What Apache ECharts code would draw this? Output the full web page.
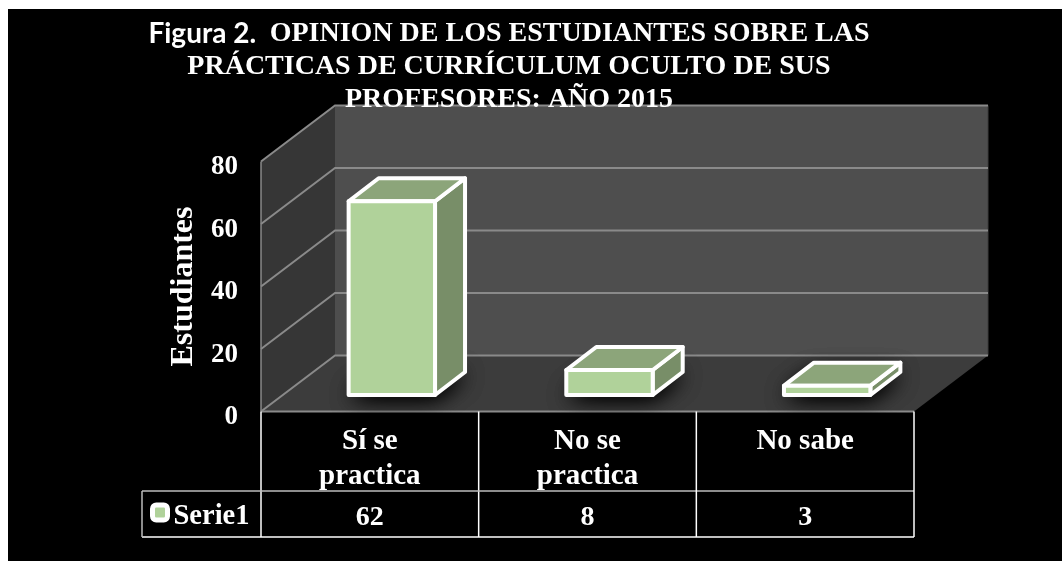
<!DOCTYPE html>
<html>
<head>
<meta charset="utf-8">
<title>Figura 2</title>
<script src="https://cdn.jsdelivr.net/npm/echarts@6/dist/echarts.min.js"></script>
<style>
html, body { margin: 0; padding: 0; background: #fff; }
#chart { width: 1062px; height: 561px; }
</style>
</head>
<body>
<div id="chart"></div>
<script>
// datos
const categories = ['Sí se\npractica', 'No se\npractica', 'No sabe'];
const values = [62, 8, 3];
const yTicks = [0, 20, 40, 60, 80];
const seriesName = 'Serie1';

const SERIF = '"Liberation Serif", serif';
// profundidad de la caja 3D
const DEPTH_X = 74, DEPTH_Y = 56;
const BAR_OFF_X = 22, BAR_OFF_Y = 16.5;
const BAR_DEPTH_X = 30, BAR_DEPTH_Y = 23;
const GRID_LINE = '#8a8a8a';

const chart = echarts.init(document.getElementById('chart'));

// paredes y suelo
const renderWalls = (params, api) => {
  const c = params.coordSys;
  const l = c.x, r = c.x + c.width, t = c.y, b = c.y + c.height;
  const poly = (points, fill) => ({ type: 'polygon', shape: { points }, style: { fill } });
  return {
    type: 'group',
    children: [
      poly([[l + DEPTH_X, t - DEPTH_Y], [r + DEPTH_X, t - DEPTH_Y], [r + DEPTH_X, b - DEPTH_Y], [l + DEPTH_X, b - DEPTH_Y]], '#4e4e4e'),
      poly([[l, b], [l + DEPTH_X, b - DEPTH_Y], [l + DEPTH_X, t - DEPTH_Y], [l, t]], '#363636'),
      poly([[l, b], [r, b], [r + DEPTH_X, b - DEPTH_Y], [l + DEPTH_X, b - DEPTH_Y]], '#3c3c3c'),
      { type: 'line', shape: { x1: r + DEPTH_X, y1: t - DEPTH_Y, x2: r + DEPTH_X, y2: b - DEPTH_Y }, style: { stroke: '#3c3c3c', lineWidth: 1 } },
      { type: 'line', shape: { x1: l, y1: t, x2: l, y2: b }, style: { stroke: GRID_LINE, lineWidth: 1.5 } },
      { type: 'line', shape: { x1: l, y1: b, x2: r, y2: b }, style: { stroke: GRID_LINE, lineWidth: 2 } }
    ]
  };
};

// lineas de la cuadricula
const renderGrid = (params, api) => {
  const c = params.coordSys;
  const p = api.coord([0, api.value(0)]);
  const y = p[1];
  return {
    type: 'polyline',
    shape: { points: [[c.x, y], [c.x + DEPTH_X, y - DEPTH_Y], [c.x + c.width + DEPTH_X, y - DEPTH_Y]] },
    style: { fill: 'none', stroke: GRID_LINE, lineWidth: 2 }
  };
};

const renderBar = (params, api) => {
  const i = api.value(0);
  const top = api.coord([i, api.value(1)]);
  const base = api.coord([i, 0]);
  const w = api.size([1, 0])[0] * 0.397;
  const x1 = top[0] + BAR_OFF_X - w / 2, x2 = x1 + w;
  const y1 = top[1] - BAR_OFF_Y, y2 = base[1] - BAR_OFF_Y;
  const dx = BAR_DEPTH_X, dy = BAR_DEPTH_Y;
  const edge = { stroke: '#fff', lineWidth: 4, lineJoin: 'round' };
  const floorShadow = {
    type: 'polygon',
    shape: { points: [[x1, y2], [x2, y2], [x2 + dx, y2 - dy], [x1 + dx, y2 - dy]] },
    style: { fill: '#111', shadowBlur: 22, shadowColor: '#000', shadowOffsetY: 2 }
  };
  return {
    type: 'group',
    children: [
      floorShadow,
      { ...floorShadow },
      { type: 'polygon', shape: { points: [[x2, y1], [x2 + dx, y1 - dy], [x2 + dx, y2 - dy], [x2, y2]] }, style: { fill: '#788e68', ...edge } },
      { type: 'polygon', shape: { points: [[x1, y1], [x2, y1], [x2 + dx, y1 - dy], [x1 + dx, y1 - dy]] }, style: { fill: '#8ca57a', ...edge } },
      { type: 'polygon', shape: { points: [[x1, y1], [x2, y1], [x2, y2], [x1, y2]] }, style: { fill: '#b0d29a', ...edge } }
    ]
  };
};

// tabla de datos bajo el eje
const TABLE_ROW = 491, TABLE_BOTTOM = 537, TABLE_LEFT = 142;
const renderTable = (params, api) => {
  const c = params.coordSys;
  const i = api.value(0);
  const bw = api.size([1, 0])[0];
  const cx = api.coord([i, 0])[0];
  const xr = cx + bw / 2;
  const children = [
    { type: 'line', shape: { x1: xr, y1: c.y + c.height, x2: xr, y2: TABLE_BOTTOM }, style: { stroke: '#fff', lineWidth: 1.5 } },
    {
      type: 'text',
      style: {
        x: cx, y: (TABLE_ROW + TABLE_BOTTOM) / 2 + 3.5, text: String(api.value(1)),
        fill: '#fff', font: 'bold 28px ' + SERIF, align: 'center', verticalAlign: 'middle'
      }
    }
  ];
  if (i === 0) {
    const l = c.x;
    children.push(
      { type: 'line', shape: { x1: l, y1: c.y + c.height, x2: l, y2: TABLE_BOTTOM }, style: { stroke: '#fff', lineWidth: 1.5 } },
      { type: 'line', shape: { x1: TABLE_LEFT, y1: TABLE_ROW, x2: c.x + c.width, y2: TABLE_ROW }, style: { stroke: '#bdbdbd', lineWidth: 1.5 } },
      { type: 'line', shape: { x1: TABLE_LEFT, y1: TABLE_BOTTOM, x2: c.x + c.width, y2: TABLE_BOTTOM }, style: { stroke: '#fff', lineWidth: 1.5 } },
      { type: 'line', shape: { x1: TABLE_LEFT, y1: TABLE_ROW, x2: TABLE_LEFT, y2: TABLE_BOTTOM }, style: { stroke: '#bdbdbd', lineWidth: 1.5 } }
    );
  }
  return { type: 'group', children };
};

chart.setOption({
  animation: false,
  backgroundColor: '#fff',
  graphic: [{
    type: 'rect', z: -10, silent: true,
    shape: { x: 8, y: 9, width: 1054, height: 552 },
    style: { fill: '#000' }
  }],
  title: {
    left: 504, top: 12, textAlign: 'center',
    text: '{a|Figura 2.  }{b|OPINION DE LOS ESTUDIANTES SOBRE LAS}\n{b|PRÁCTICAS DE CURRÍCULUM OCULTO DE SUS}\n{b|PROFESORES: AÑO 2015}',
    textStyle: {
      rich: {
        a: { fontFamily: 'Lato', fontWeight: 'bold', fontSize: 28, color: '#fff', lineHeight: 33 },
        b: { fontFamily: SERIF, fontWeight: 'bold', fontSize: 28, color: '#fff', lineHeight: 33 }
      }
    },
    z: 20
  },
  legend: {
    left: 150, top: 502, padding: 0, orient: 'horizontal', data: [seriesName],
    itemWidth: 15, itemHeight: 15, itemGap: 0, selectedMode: false,
    icon: 'roundRect',
    itemStyle: { color: '#b0d29a', borderColor: '#fff', borderWidth: 5 },
    formatter: '{t|{name}}',
    textStyle: {
      padding: [0, 0, 0, 1],
      rich: {
        t: { color: '#fff', fontFamily: SERIF, fontWeight: 'bold', fontSize: 28.5, padding: [8, 0, 0, 0] }
      }
    }
  },
  grid: { left: 261, top: 161.5, width: 653, height: 250 },
  xAxis: {
    type: 'category',
    data: categories,
    axisLine: { show: false },
    axisTick: { show: false },
    axisLabel: {
      interval: 0, margin: 13, color: '#fff',
      fontFamily: SERIF, fontWeight: 'bold', fontSize: 29, lineHeight: 35
    }
  },
  yAxis: {
    type: 'value',
    min: 0, max: 80, interval: 20,
    name: 'Estudiantes',
    nameLocation: 'middle',
    nameGap: 58,
    nameTextStyle: { color: '#fff', fontFamily: SERIF, fontWeight: 'bold', fontSize: 32 },
    axisLine: { show: false },
    axisTick: { show: false },
    splitLine: { show: false },
    axisLabel: { margin: 23, color: '#fff', fontFamily: SERIF, fontWeight: 'bold', fontSize: 27, verticalAlign: 'top', lineHeight: 12 }
  },
  series: [
    { type: 'custom', name: 'walls', z: 1, silent: true, renderItem: renderWalls, data: [0], encode: { y: 0 } },
    { type: 'custom', name: 'grid', z: 2, silent: true, renderItem: renderGrid, data: yTicks.map(v => [v]), encode: { y: 0 } },
    {
      type: 'custom', name: seriesName, z: 3, renderItem: renderBar,
      data: values.map((v, i) => [i, v]), encode: { x: 0, y: 1 },
      itemStyle: { color: '#b0d29a' }
    },
    { type: 'custom', name: 'table', z: 4, silent: true, renderItem: renderTable, data: values.map((v, i) => [i, v]), encode: { x: 0, y: 1 } }
  ]
});
</script>
</body>
</html>
